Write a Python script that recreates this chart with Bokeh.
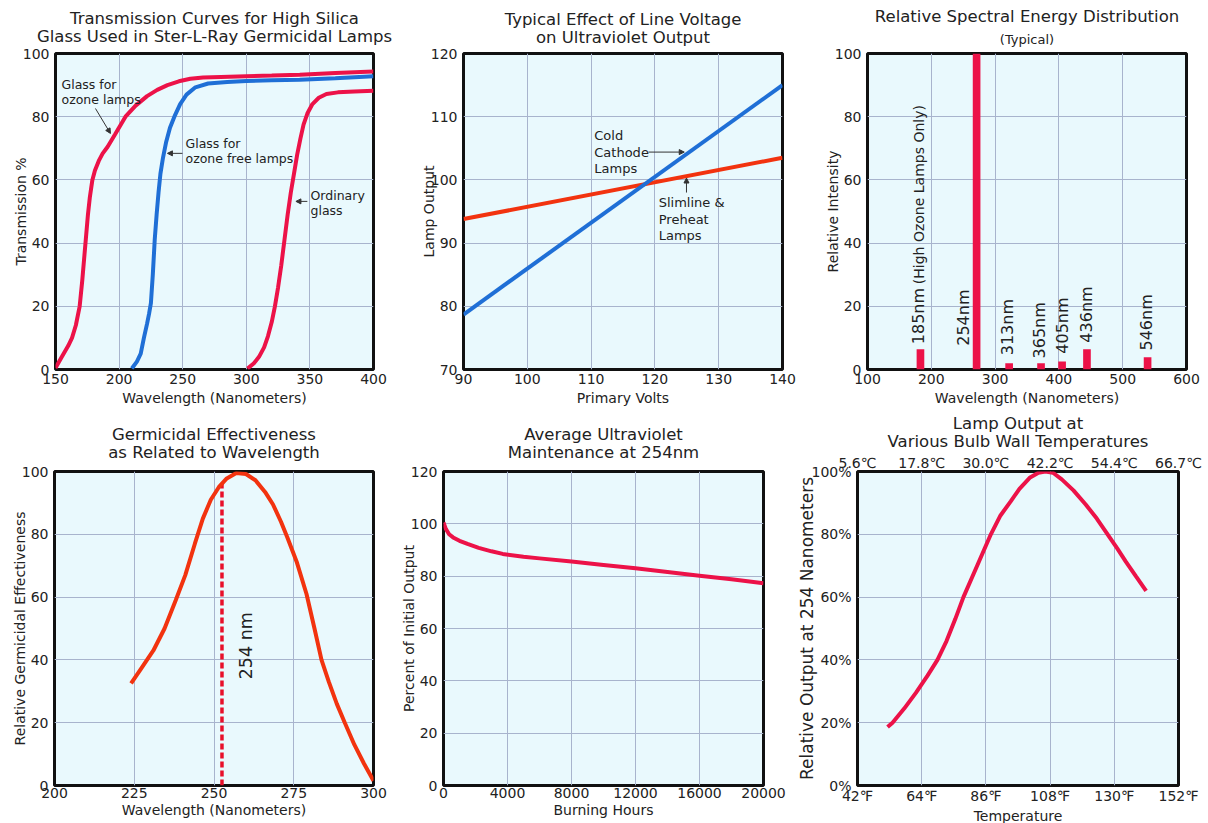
import math
from bokeh.plotting import figure
from bokeh.layouts import column, row
from bokeh.models import Range1d, FixedTicker, LinearAxis, Arrow, NormalHead, Title
from bokeh.core.properties import value
from bokeh.embed import file_html
from bokeh.resources import INLINE

FONT = "DejaVu Sans"
BG = "#e9f9fd"
GRID = "#a8b4cd"
CRIMSON = "#ec1248"
BLUE = "#1f6fd6"
ORANGE_RED = "#f2330f"
TEXT = "#222222"
TITLE_HAS_ALIGN = "text_align" in Title.properties()

# ---------------- Panel 1: transmission curves ----------------
p1_xticks = [150, 200, 250, 300, 350, 400]
p1_yticks = [0, 20, 40, 60, 80, 100]
ozone_nm = [150, 155, 160, 163, 166, 169, 171, 172.5, 174, 175.5, 177, 179, 181, 184, 187, 191, 197,
            205, 213, 222, 230, 238, 247, 256, 266, 280, 300, 320, 342, 370, 400]
ozone_tr = [0.5, 4, 7.5, 10, 14, 20, 28, 35, 42, 49, 54.5, 60, 63, 66, 68.3, 70.5, 74.5,
            80, 83.5, 86.5, 88.5, 90, 91.2, 92, 92.4, 92.6, 92.8, 93, 93.3, 93.8, 94.3]
free_nm = [210, 214, 217, 219.5, 222, 223.5, 225, 226.5, 228, 229.5, 231, 232.5, 234.5, 237, 240,
           244, 248, 253, 260, 270, 285, 300, 320, 342, 370, 400]
free_tr = [0.3, 2.5, 5, 10, 14.5, 17.5, 21, 30, 41, 49, 56, 62, 67, 72, 76.5,
           80.5, 84, 87, 89.3, 90.5, 91, 91.3, 91.5, 91.7, 92.2, 92.8]
ord_nm = [301, 306, 310, 314, 317, 320, 322.5, 325, 327.5, 330, 332.5, 335, 337.5, 340, 342.5, 345,
          348, 352, 357, 363, 372, 385, 400]
ord_tr = [0.3, 2, 4, 7, 10.5, 15, 20, 26, 33, 41, 49, 56, 62, 68, 73, 77.5,
          81, 84, 86, 87.2, 87.7, 88, 88.2]

# ---------------- Panel 2: line voltage ----------------
p2_xticks = [90, 100, 110, 120, 130, 140]
p2_yticks = [70, 80, 90, 100, 110, 120]
volts = [90, 140]
cold_cathode = [78.7, 115.0]
slimline = [93.8, 103.5]

# ---------------- Panel 3: spectral distribution ----------------
p3_xticks = [100, 200, 300, 400, 500, 600]
p3_yticks = [0, 20, 40, 60, 80, 100]
line_labels = ["185nm", "254nm", "313nm", "365nm", "405nm", "436nm", "546nm"]
line_pos = [183, 271, 322, 372, 405, 444, 539]
line_intensity = [6.4, 100, 2.0, 2.0, 2.5, 6.4, 3.9]
label_x = [180.5, 250, 320, 370, 405, 443, 538]
label_y = [8, 7.5, 4.5, 3.5, 5, 8.5, 6]
note_text = ["(High Ozone Lamps Only)"]
note_x = [180.5]
note_y = [27]

# ---------------- Panel 4: germicidal effectiveness ----------------
p4_xticks = [200, 225, 250, 275, 300]
p4_yticks = [0, 20, 40, 60, 80, 100]
germ_nm = [224, 227, 231, 234.5, 238, 241, 244, 246.5, 249, 251.5, 254, 257, 260, 263, 266, 268.5,
           271, 273, 276, 279, 281.5, 283.7, 286, 288.5, 291, 294, 297, 300]
germ_eff = [32.5, 37, 43, 50, 59, 67, 77, 85, 91, 95, 97.8, 99.5, 99.2, 97.2, 93.5, 89.5,
            84, 79, 71, 61, 50, 40, 33, 26, 20, 13, 7, 1.5]
peak_nm = [252.5, 252.5]
peak_eff = [0, 96]

# ---------------- Panel 5: UV maintenance ----------------
p5_xticks = [0, 4000, 8000, 12000, 16000, 20000]
p5_yticks = [0, 20, 40, 60, 80, 100, 120]
hours = [0, 150, 350, 600, 1000, 1500, 2200, 3000, 3700, 5000, 6000, 8000, 10000, 12000,
         14000, 16000, 18000, 20000]
pct_output = [100.5, 98, 96, 94.8, 93.5, 92.3, 90.8, 89.5, 88.5, 87.4, 86.8, 85.6, 84.3, 83,
              81.6, 80.2, 78.8, 77.3]

# ---------------- Panel 6: bulb wall temperature ----------------
p6_xticks = [42, 64, 86, 108, 130, 152]
p6_fahrenheit = ["42℉", "64℉", "86℉", "108℉", "130℉", "152℉"]
p6_celsius = ["5.6℃", "17.8℃", "30.0℃", "42.2℃", "54.4℃", "66.7℃"]
p6_yticks = [0, 20, 40, 60, 80, 100]
p6_ylabels = ["0%", "20%", "40%", "60%", "80%", "100%"]
temp_f = [52.3, 54, 58, 62, 66, 69.4, 72.5, 75.5, 78.3, 83, 87.7, 91, 94.5, 97.5, 101, 104,
          106.4, 109, 112, 116, 120.2, 124, 127.7, 131, 134, 137.5, 140.9]
rel_output = [18.6, 20, 24.5, 29.5, 35, 40, 46, 53, 60, 70, 80, 86, 90.5, 94.5, 98, 99.6,
              100, 99.6, 97.5, 94, 89.5, 85, 80, 75.5, 71.2, 66.5, 62]


def style_axis(ax, tick_size, label_size):
    ax.axis_line_color = None
    ax.major_tick_line_color = None
    ax.minor_tick_line_color = None
    ax.major_tick_out = 0
    ax.major_tick_in = 0
    ax.minor_tick_out = 0
    ax.minor_tick_in = 0
    ax.major_label_text_font = FONT
    ax.major_label_text_font_size = tick_size
    ax.major_label_text_color = TEXT
    ax.axis_label_text_font = FONT
    ax.axis_label_text_font_size = label_size
    ax.axis_label_text_font_style = "normal"
    ax.axis_label_text_color = TEXT


def title_props(t, size="16.5px"):
    t.align = "center"
    t.text_font = FONT
    t.text_font_size = size
    t.text_font_style = "normal"
    t.text_color = TEXT


def make_fig(fw, fh, border, xr, yr, xticks, yticks, title, xlabel, ylabel, tstand,
             xlabels=None, ylabels=None, tick_size="14px", xlabel_size="14px", ylabel_size="14px",
             above_axis=None, xstand=(2, 1)):
    p = figure(frame_width=fw, frame_height=fh, x_range=Range1d(*xr), y_range=Range1d(*yr),
               output_backend="svg", toolbar_location=None,
               min_border_left=border[0], min_border_right=border[1],
               min_border_top=border[2], min_border_bottom=border[3])
    p.background_fill_color = BG
    p.border_fill_color = "white"
    p.outline_line_color = "#111111"
    p.outline_line_width = 3
    p.xaxis.ticker = FixedTicker(ticks=xticks)
    p.yaxis.ticker = FixedTicker(ticks=yticks)
    if xlabels:
        p.xaxis.major_label_overrides = {t: s for t, s in zip(xticks, xlabels)}
    if ylabels:
        p.yaxis.major_label_overrides = {t: s for t, s in zip(yticks, ylabels)}
    p.xaxis.axis_label = xlabel
    p.yaxis.axis_label = ylabel
    style_axis(p.xaxis[0], tick_size, xlabel_size)
    style_axis(p.yaxis[0], tick_size, ylabel_size)
    p.xaxis[0].major_label_standoff = xstand[0]
    p.xaxis[0].axis_label_standoff = xstand[1]
    p.yaxis[0].major_label_standoff = 6
    p.yaxis[0].axis_label_standoff = -9
    for g in (p.xgrid[0], p.ygrid[0]):
        g.grid_line_color = GRID
        g.grid_line_width = 1
    if above_axis is not None:
        p.add_layout(above_axis, "above")
    title_props(p.title)
    lines = title.split("\n")
    if TITLE_HAS_ALIGN or len(lines) == 1:
        p.title.text = title
        if TITLE_HAS_ALIGN:
            p.title.text_align = "center"
        p.title.text_line_height = 0.95
        p.title.standoff = tstand
    else:
        p.title.text = lines[0]
        p.title.standoff = -6
        t2 = Title(text=lines[1], standoff=tstand)
        title_props(t2)
        p.add_layout(t2, "above")
    return p


def note(p, xs, ys, texts, size="13px", align="left", baseline="top", angle=0.0, lh=1.05):
    p.text(x=xs, y=ys, text=texts, text_font=value(FONT), text_font_size=value(size),
           text_color=TEXT, text_align=align, text_baseline=baseline, angle=angle,
           text_line_height=lh)


def arrow(p, x0, y0, x1, y1):
    p.add_layout(Arrow(end=NormalHead(size=5, fill_color="#333333", line_color="#333333"),
                       x_start=x0, y_start=y0, x_end=x1, y_end=y1,
                       line_color="#333333", line_width=1))


R1 = (52, 43)   # top, bottom borders row 1
R2 = (58, 39)   # top, bottom borders row 2
FH1, FH2 = 316, 314
XS1 = (4, 3)

# Panel 1
p1 = make_fig(318, FH1, (55, 32) + R1, (150, 400), (0, 100), p1_xticks, p1_yticks,
              "Transmission Curves for High Silica\nGlass Used in Ster-L-Ray Germicidal Lamps",
              "Wavelength (Nanometers)", "Transmission %", 14, xstand=XS1)
p1.line(ozone_nm, ozone_tr, line_color=CRIMSON, line_width=4)
p1.line(free_nm, free_tr, line_color=BLUE, line_width=4)
p1.line(ord_nm, ord_tr, line_color=CRIMSON, line_width=4)
note(p1, [154.7], [92.5], ["Glass for\nozone lamps"], size="12.5px", lh=1.0)
arrow(p1, 181.4, 82.6, 193.2, 74.7)
note(p1, [252.2], [74], ["Glass for\nozone free lamps"], size="12.5px", lh=1.0)
arrow(p1, 249.8, 68.4, 238.0, 68.4)
note(p1, [350.5], [57.5], ["Ordinary\nglass"], size="12.5px", lh=1.0)
arrow(p1, 348.0, 53.2, 339.0, 53.2)

# Panel 2
p2 = make_fig(319, FH1, (58, 20) + R1, (90, 140), (70, 120), p2_xticks, p2_yticks,
              "Typical Effect of Line Voltage\non Ultraviolet Output",
              "Primary Volts", "Lamp Output", 13, xstand=XS1)
p2.line(volts, slimline, line_color=ORANGE_RED, line_width=4)
p2.line(volts, cold_cathode, line_color=BLUE, line_width=4)
note(p2, [110.5], [108.2], ["Cold\nCathode\nLamps"], lh=1.1)
arrow(p2, 119.0, 104.4, 124.6, 104.4)
note(p2, [120.6], [97.6], ["Slimline &\nPreheat\nLamps"], lh=1.1)
arrow(p2, 124.95, 98.0, 124.95, 100.3)

# Panel 3
p3 = make_fig(319, FH1, (65, 20) + R1, (100, 600), (0, 100), p3_xticks, p3_yticks,
              "Relative Spectral Energy Distribution",
              "Wavelength (Nanometers)", "Relative Intensity", -7, xstand=XS1)
sub = Title(text="(Typical)", standoff=14)
title_props(sub, "13px")
p3.add_layout(sub, "above")
p3.vbar(x=line_pos, top=line_intensity, bottom=0, width=12, fill_color=CRIMSON, line_color=None)
note(p3, label_x, label_y, line_labels, size="16px", baseline="middle", angle=math.pi / 2)
note(p3, note_x, note_y, note_text, size="14px", baseline="middle", angle=math.pi / 2)

# Panel 4
p4 = make_fig(319, FH2, (54, 24) + R2, (200, 300), (0, 100), p4_xticks, p4_yticks,
              "Germicidal Effectiveness\nas Related to Wavelength",
              "Wavelength (Nanometers)", "Relative Germicidal Effectiveness", 18)
p4.line(peak_nm, peak_eff, line_color="#e8102a", line_width=3.5, line_dash="6 3")
p4.line(germ_nm, germ_eff, line_color=ORANGE_RED, line_width=4)
note(p4, [259.9], [44.5], ["254 nm"], size="17.5px", align="center", baseline="middle",
     angle=math.pi / 2)

# Panel 5
p5 = make_fig(320, FH2, (44, 31) + R2, (0, 20000), (0, 120), p5_xticks, p5_yticks,
              "Average Ultraviolet\nMaintenance at 254nm",
              "Burning Hours", "Percent of Initial Output", 19,
              xlabels=[str(t) for t in p5_xticks])
p5.line(hours, pct_output, line_color=CRIMSON, line_width=4)

# Panel 6
top_axis = LinearAxis(ticker=FixedTicker(ticks=p6_xticks),
                      major_label_overrides={t: s for t, s in zip(p6_xticks, p6_celsius)})
style_axis(top_axis, "14px", "12px")
top_axis.major_label_standoff = 1
p6 = make_fig(321, FH2, (63, 24) + R2, (42, 152), (0, 100), p6_xticks, p6_yticks,
              "Lamp Output at\nVarious Bulb Wall Temperatures",
              "Temperature", "Relative Output at 254 Nanometers", 0,
              xlabels=p6_fahrenheit, ylabels=p6_ylabels, ylabel_size="17px", above_axis=top_axis)
p6.line(temp_f, rel_output, line_color=CRIMSON, line_width=4)

layout = column(row(p1, p2, p3), row(p4, p5, p6))
open("out.html", "w").write(file_html(layout, INLINE))
